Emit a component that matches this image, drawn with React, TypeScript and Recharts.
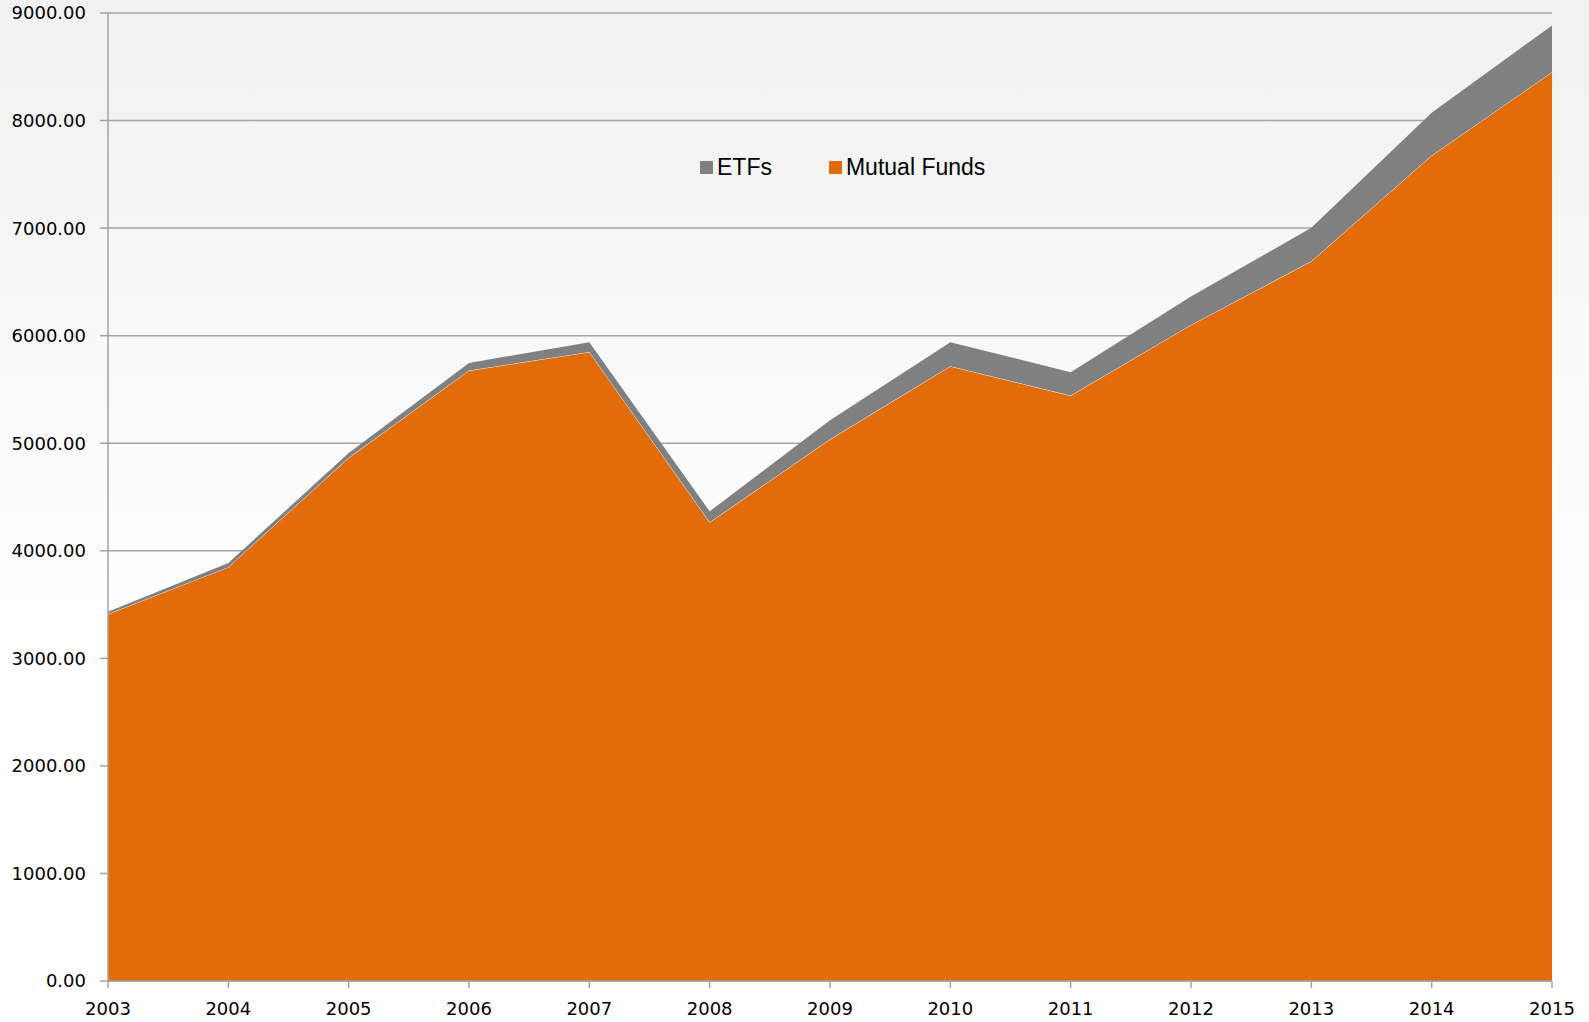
import { AreaChart, Area, XAxis, YAxis, CartesianGrid } from "recharts";

const years = ["2003", "2004", "2005", "2006", "2007", "2008", "2009", "2010", "2011", "2012", "2013", "2014", "2015"];
const mutualFunds = [3412, 3848, 4864, 5676, 5849, 4265, 5036, 5716, 5443, 6100, 6692, 7675, 8450];
const etfs = [20, 38, 46, 71, 90, 102, 178, 223, 217, 264, 311, 397, 434];
const yTicks = [0, 1000, 2000, 3000, 4000, 5000, 6000, 7000, 8000, 9000];

const ORANGE = "#e36c0a";
const GRAY = "#808080";
const LINE = "#a3a3a3";

const chartData = years.map((y, i) => ({
  year: y,
  mutual: mutualFunds[i],
  etf: etfs[i],
}));

// legend order is ETFs first, unlike the stacking order
const legendItems = [
  { label: "ETFs", color: GRAY },
  { label: "Mutual Funds", color: ORANGE },
];

function ChartLegend() {
  return (
    <div
      style={{
        position: "absolute",
        top: 154,
        left: 700,
        display: "flex",
        alignItems: "center",
        fontFamily: "Liberation Sans, Arial, sans-serif",
        fontSize: 23,
        color: "#000",
      }}
    >
      {legendItems.map((it, i) => (
        <div key={it.label} style={{ display: "flex", alignItems: "center", marginLeft: i === 0 ? 0 : 57 }}>
          <span style={{ display: "inline-block", width: 13, height: 13, background: it.color, marginRight: 4 }} />
          <span>{it.label}</span>
        </div>
      ))}
    </div>
  );
}

export default function App() {
  return (
    <div
      style={{
        position: "absolute",
        left: 0,
        top: 0,
        width: 1589,
        height: 1022,
        background: "linear-gradient(#f2f2f2 0%, #f2f2f2 8%, #fafafa 40%, #ffffff 62%, #ffffff 100%)",
      }}
    >
      <AreaChart
        width={1589}
        height={1022}
        data={chartData}
        margin={{ top: 13, right: 37, bottom: 0, left: 0 }}
      >
        <CartesianGrid vertical={false} stroke={LINE} strokeWidth={1.5} />
        <XAxis
          dataKey="year"
          height={41}
          tickSize={7}
          tickMargin={14}
          stroke={LINE}
          strokeWidth={1.5}
          interval={0}
          tick={{ fill: "#000", fontSize: 18, fontFamily: "DejaVu Sans" }}
        />
        <YAxis
          width={108}
          domain={[0, 9000]}
          ticks={yTicks}
          tickFormatter={(v: number) => v.toFixed(2)}
          tickSize={8}
          tickMargin={14}
          stroke={LINE}
          strokeWidth={1.5}
          tick={{ fill: "#000", fontSize: 18, fontFamily: "DejaVu Sans" }}
        />
        <Area
          type="linear"
          dataKey="mutual"
          stackId="a"
          fill={ORANGE}
          fillOpacity={1}
          stroke="#f2f2f2"
          strokeWidth={1}
          isAnimationActive={false}
        />
        <Area
          type="linear"
          dataKey="etf"
          stackId="a"
          fill={GRAY}
          fillOpacity={1}
          stroke="none"
          isAnimationActive={false}
        />
      </AreaChart>
      <ChartLegend />
    </div>
  );
}
